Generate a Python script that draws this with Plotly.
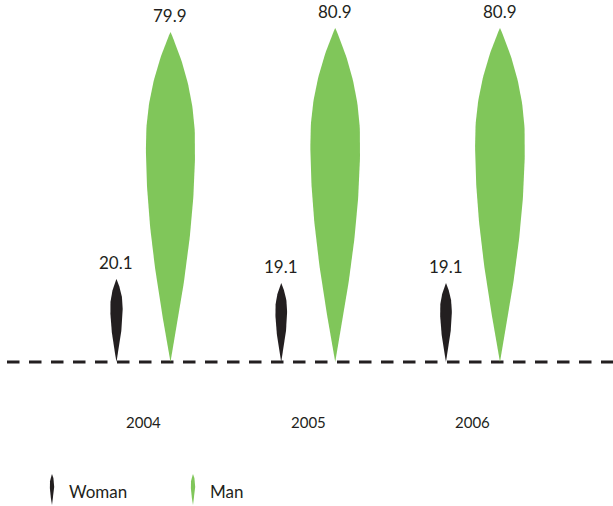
import numpy as np
import plotly.graph_objects as go

# Share of each gender per year (%)
years = ["2004", "2005", "2006"]
woman = [20.1, 19.1, 19.1]
man = [79.9, 80.9, 80.9]
series_names = ["Woman", "Man"]

WOMAN_COLOR = "#231F20"
MAN_COLOR = "#80C65A"
TEXT_COLOR = "#231F20"
FONT = "Lato, 'Open Sans', sans-serif"

W, H = 613, 506
# axis ranges chosen so the group spacing and baseline sit where they should
X_RANGE = [-0.871, 2.850]
Y_RANGE = [-34.87, 87.65]
PX_PER_X = W / (X_RANGE[1] - X_RANGE[0])
PX_PER_Y = H / (Y_RANGE[1] - Y_RANGE[0])
OFFSET = 27 / PX_PER_X          # woman / man offset from the group centre
LEAF_RATIO = 0.149              # leaf width relative to its height


def leaf(xc, y0, height, half_w, n=100):
    """Leaf outline: long taper to a point at the bottom, ogive tip at the top."""
    t = np.linspace(0, 1, n)
    peak = 0.66
    w = np.where(
        t <= peak,
        np.sin(np.pi / 2 * t / peak),
        1 - ((t - peak) / (1 - peak)) ** 2,
    )
    ys = y0 + t * height
    xs_r = xc + half_w * w
    xs_l = xc - half_w * w
    x = np.concatenate([xs_r, xs_l[::-1]])
    y = np.concatenate([ys, ys[::-1]])
    return x, y


def value_leaf(xc, value):
    half_px = 0.5 * LEAF_RATIO * value * PX_PER_Y
    return leaf(xc, 0, value, half_px / PX_PER_X)


fig = go.Figure()

for i, year in enumerate(years):
    for val, color, sign in ((woman[i], WOMAN_COLOR, -1), (man[i], MAN_COLOR, 1)):
        xc = i + sign * OFFSET
        lx, ly = value_leaf(xc, val)
        fig.add_trace(go.Scatter(
            x=lx, y=ly, mode="lines", fill="toself", fillcolor=color,
            line=dict(width=0, color=color), hoverinfo="skip", showlegend=False,
        ))
        fig.add_annotation(
            x=xc, y=val, text=f"{val:.1f}", showarrow=False,
            yanchor="bottom", yshift=4,
            font=dict(family=FONT, size=17, color=TEXT_COLOR),
        )
    fig.add_annotation(
        x=i, y=-(60.5 / PX_PER_Y), text=year, showarrow=False,
        font=dict(family=FONT, size=15, color=TEXT_COLOR),
    )

# Legend drawn as small leaf glyphs with labels
legend_items = [(series_names[0], WOMAN_COLOR, 52), (series_names[1], MAN_COLOR, 193)]
for name, color, px in legend_items:
    xc = X_RANGE[0] + px / PX_PER_X
    y_bot = Y_RANGE[1] - 505 / PX_PER_Y
    lx, ly = leaf(xc, y_bot, 31 / PX_PER_Y, 2.2 / PX_PER_X)
    fig.add_trace(go.Scatter(
        x=lx, y=ly, mode="lines", fill="toself", fillcolor=color,
        line=dict(width=0, color=color), hoverinfo="skip", showlegend=False,
    ))
    fig.add_annotation(
        x=X_RANGE[0] + (px + 15) / PX_PER_X, y=Y_RANGE[1] - 491 / PX_PER_Y,
        text=name, showarrow=False, xanchor="left",
        font=dict(family=FONT, size=17, color=TEXT_COLOR),
    )

# Dashed baseline
fig.add_shape(
    type="line", xref="paper", yref="y", x0=7 / W, x1=1, y0=0, y1=0,
    line=dict(color="#231F20", width=3, dash="12.5px,9.5px"), layer="below",
)

fig.update_layout(
    width=W, height=H,
    margin=dict(l=0, r=0, t=0, b=0),
    paper_bgcolor="white", plot_bgcolor="white",
    xaxis=dict(range=X_RANGE, visible=False, fixedrange=True),
    yaxis=dict(range=Y_RANGE, visible=False, fixedrange=True),
    showlegend=False,
)

fig.write_html("out.html")
